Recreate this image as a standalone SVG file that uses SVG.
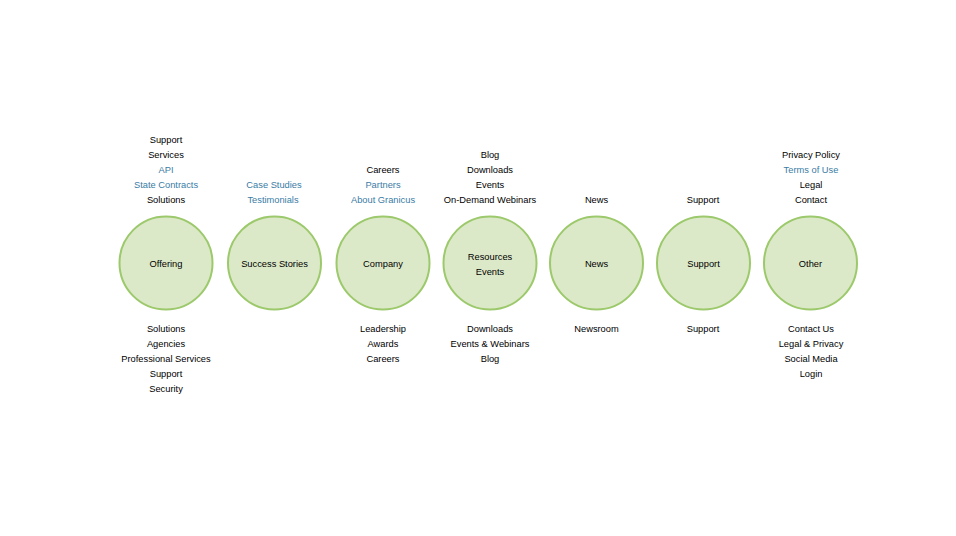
<svg xmlns="http://www.w3.org/2000/svg" width="956" height="536" viewBox="0 0 956 536">
<style>
.n{fill:#dce9c8;stroke:#9cc96b;stroke-width:2}
text{font-family:"Liberation Sans",Arial,sans-serif;font-size:9.3px;fill:#000;text-anchor:middle}
text.l{fill:#3a7ca5}
</style>
<rect width="956" height="536" fill="#fff"/>
<g id="connectors"></g>
<g id="offering">
<circle class="n" cx="166" cy="263" r="46.5"/>
<text x="166" y="267">Offering</text>
<text x="166" y="143">Support</text>
<text x="166" y="158">Services</text>
<text class="l" x="166" y="173">API</text>
<text class="l" x="166" y="188">State Contracts</text>
<text x="166" y="203">Solutions</text>
<text x="166" y="332">Solutions</text>
<text x="166" y="347">Agencies</text>
<text x="166" y="362">Professional Services</text>
<text x="166" y="377">Support</text>
<text x="166" y="392">Security</text>
</g>
<g id="success-stories">
<circle class="n" cx="274.5" cy="263" r="46.5"/>
<text x="274.5" y="267">Success Stories</text>
<text class="l" x="274" y="188">Case Studies</text>
<text class="l" x="273" y="203">Testimonials</text>
</g>
<g id="company">
<circle class="n" cx="383" cy="263" r="46.5"/>
<text x="383" y="267">Company</text>
<text x="383" y="173">Careers</text>
<text class="l" x="383" y="188">Partners</text>
<text class="l" x="383" y="203">About Granicus</text>
<text x="383" y="332">Leadership</text>
<text x="383" y="347">Awards</text>
<text x="383" y="362">Careers</text>
</g>
<g id="resources">
<circle class="n" cx="490" cy="263" r="46.5"/>
<text x="490" y="260">Resources</text>
<text x="490" y="275">Events</text>
<text x="490" y="158">Blog</text>
<text x="490" y="173">Downloads</text>
<text x="490" y="188">Events</text>
<text x="490" y="203">On-Demand Webinars</text>
<text x="490" y="332">Downloads</text>
<text x="490" y="347">Events &amp; Webinars</text>
<text x="490" y="362">Blog</text>
</g>
<g id="news">
<circle class="n" cx="596.5" cy="263" r="46.5"/>
<text x="596.5" y="267">News</text>
<text x="596.5" y="203">News</text>
<text x="596.5" y="332">Newsroom</text>
</g>
<g id="support">
<circle class="n" cx="703.5" cy="263" r="46.5"/>
<text x="703.5" y="267">Support</text>
<text x="703" y="203">Support</text>
<text x="703" y="332">Support</text>
</g>
<g id="other">
<circle class="n" cx="810.5" cy="263" r="46.5"/>
<text x="810.5" y="267">Other</text>
<text x="811" y="158">Privacy Policy</text>
<text class="l" x="811" y="173">Terms of Use</text>
<text x="811" y="188">Legal</text>
<text x="811" y="203">Contact</text>
<text x="811" y="332">Contact Us</text>
<text x="811" y="347">Legal &amp; Privacy</text>
<text x="811" y="362">Social Media</text>
<text x="811" y="377">Login</text>
</g>
</svg>
